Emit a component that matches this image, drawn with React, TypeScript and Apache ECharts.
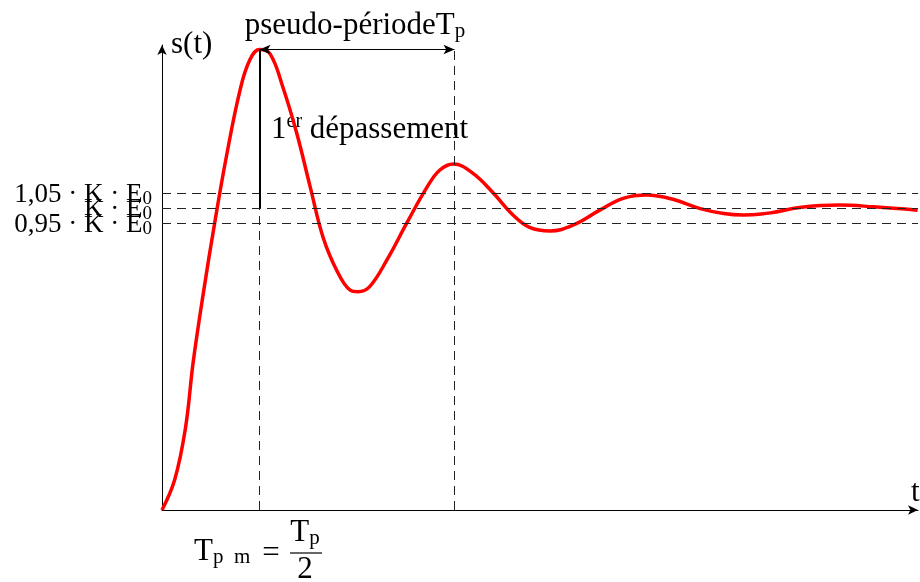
import React, { useEffect, useRef } from "react";
import * as echarts from "echarts";

// time in units of Tp/2 (so Tpm = 1, Tp = 2)
const tValues = [0, 0.13, 0.24, 0.32, 0.42, 0.54, 0.66, 0.8, 0.9, 1.0, 1.11, 1.24, 1.38, 1.52, 1.65, 1.79, 1.93, 2.01, 2.13, 2.31, 2.51, 2.72, 2.85, 2.99, 3.19, 3.4, 3.6, 3.77, 3.98, 4.22, 4.49, 4.73, 4.97, 5.24, 5.52, 5.76, 5.96, 6.24, 6.54, 6.95, 7.3, 7.75];
// s(t) in units of K·E0
const sValues = [0, 0.1, 0.27, 0.49, 0.71, 0.95, 1.17, 1.39, 1.49, 1.525, 1.51, 1.4, 1.25, 1.07, 0.905, 0.795, 0.728, 0.723, 0.74, 0.83, 0.95, 1.07, 1.126, 1.146, 1.115, 1.049, 0.977, 0.936, 0.924, 0.944, 0.993, 1.032, 1.043, 1.029, 0.998, 0.982, 0.977, 0.984, 1.002, 1.01, 1.004, 0.993];

const levelValues = [1.05, 1.0, 0.95];
const levelLabels = ["{l|1,05 · K · E}{ls|0}", "{l|K · E}{ls|0}", "{l|0,95 · K · E}{ls|0}"];
const firstPeakT = 1;
const secondPeakT = 3;
const peakValue = 1.525;
const xMax = 7.754;
const yMax = 1.54;

const FONT = "'Liberation Serif', 'DejaVu Serif', serif";
const FS = 31;

const richStyles = {
  a: { fontFamily: FONT, fontSize: FS, lineHeight: 34, color: "#000" },
  s: { fontFamily: FONT, fontSize: 21, lineHeight: 18, verticalAlign: "bottom", color: "#000" },
  sup: { fontFamily: FONT, fontSize: 20, lineHeight: 20, verticalAlign: "top", color: "#000" },
  l: { fontFamily: FONT, fontSize: 27, lineHeight: 28, color: "#000" },
  ls: { fontFamily: FONT, fontSize: 19, lineHeight: 16, verticalAlign: "bottom", color: "#000" },
  two: { fontFamily: FONT, fontSize: FS, lineHeight: 20, color: "#000" },
};

export default function App() {
  const ref = useRef<HTMLDivElement>(null);
  useEffect(() => {
    if (!ref.current) return;
    const chart = echarts.init(ref.current, null, { renderer: "svg" });
    const dashed = { type: [9, 6], color: "#222", width: 1 };
    const curve = tValues.map((t, i) => [t, sValues[i]]);
    chart.setOption({
      animation: false,
      grid: { left: 162, right: 2, top: 45, bottom: 72 },
      xAxis: {
        type: "value",
        min: 0,
        max: xMax,
        axisLine: { show: true, symbol: ["none", "arrow"], symbolSize: [7, 10], lineStyle: { color: "#000", width: 1 } },
        axisTick: { show: false },
        axisLabel: { show: false },
        splitLine: { show: false },
      },
      yAxis: {
        type: "value",
        min: 0,
        max: yMax,
        axisLine: { show: true, symbol: ["none", "arrow"], symbolSize: [7, 10], lineStyle: { color: "#000", width: 1 } },
        axisTick: { show: false },
        axisLabel: { show: false },
        splitLine: { show: false },
      },
      series: [
        {
          type: "line",
          z: 1,
          data: [],
          markLine: {
            silent: true,
            symbol: ["none", "none"],
            data: [
              ...levelValues.map((v, i) => ({
                yAxis: v,
                lineStyle: dashed,
                label: {
                  show: true,
                  position: "start",
                  distance: 10,
                  formatter: levelLabels[i],
                  rich: richStyles,
                },
              })),
              [
                { coord: [firstPeakT, 0], lineStyle: dashed, label: { show: false } },
                { coord: [firstPeakT, 1.0] },
              ],
              [
                { coord: [secondPeakT, 0], lineStyle: dashed, label: { show: false } },
                { coord: [secondPeakT, peakValue] },
              ],
            ],
          },
        },
        {
          type: "line",
          z: 2,
          data: curve,
          symbol: "none",
          smooth: 0.4,
          lineStyle: { color: "#ff0000", width: 3.5 },
        },
        {
          type: "line",
          z: 3,
          data: [],
          markLine: {
            silent: true,
            symbol: ["none", "none"],
            data: [
              [
                { coord: [firstPeakT, 1.0], lineStyle: { type: "solid", color: "#000", width: 2 }, label: { show: false } },
                { coord: [firstPeakT, peakValue] },
              ],
              [
                { coord: [firstPeakT, peakValue], symbol: "arrow", symbolSize: [7, 11], lineStyle: { type: "solid", color: "#000", width: 1 }, label: { show: false } },
                { coord: [secondPeakT, peakValue], symbol: "arrow", symbolSize: [7, 11] },
              ],
            ],
          },
        },
      ],
      graphic: [
        { type: "text", x: 171, y: 42, style: { text: "s(t)", font: `${FS}px ${FONT}`, fill: "#000", align: "left", verticalAlign: "middle" } },
        { type: "text", x: 911, y: 490, style: { text: "t", font: `${FS}px ${FONT}`, fill: "#000", align: "left", verticalAlign: "middle" } },
        { type: "text", x: 355, y: 23, style: { text: "{a|pseudo-périodeT}{s|p}", rich: richStyles, align: "center", verticalAlign: "middle" } },
        { type: "text", x: 271, y: 127, style: { text: "{a|1}{sup|er}{a| dépassement}", rich: richStyles, align: "left", verticalAlign: "middle" } },
        { type: "text", x: 194, y: 549, style: { text: "{a|T}{s|p\u2002m}", rich: richStyles, align: "left", verticalAlign: "middle" } },
        { type: "text", x: 271, y: 551, style: { text: "=", font: `${FS}px ${FONT}`, fill: "#000", align: "center", verticalAlign: "middle" } },
        { type: "text", x: 305, y: 530, style: { text: "{a|T}{s|p}", rich: richStyles, align: "center", verticalAlign: "middle" } },
        { type: "line", shape: { x1: 290, y1: 553, x2: 322, y2: 553 }, style: { stroke: "#000", lineWidth: 1.2 } },
        { type: "text", x: 305, y: 567, style: { text: "{two|2}", rich: richStyles, align: "center", verticalAlign: "middle" } },
      ],
    });
    return () => chart.dispose();
  }, []);
  return <div ref={ref} style={{ position: "fixed", left: 0, top: 0, width: 920, height: 582 }} />;
}
